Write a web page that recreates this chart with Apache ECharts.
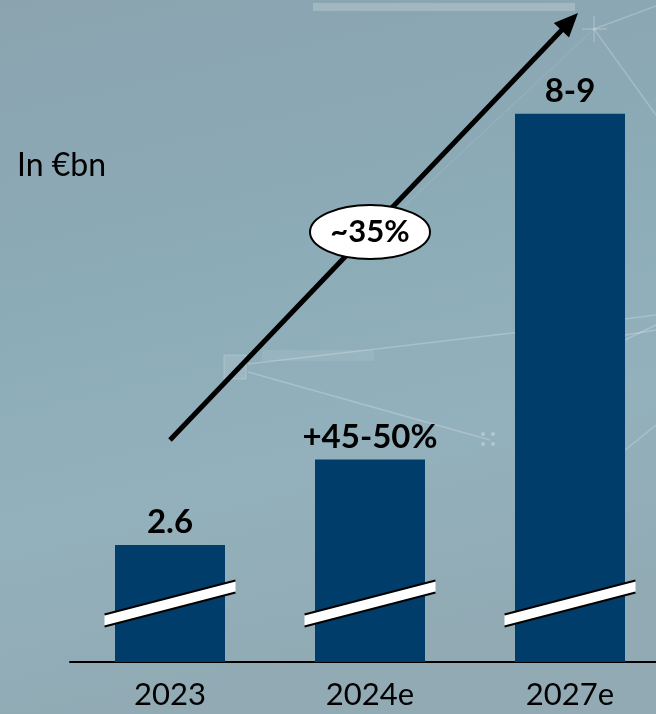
<!DOCTYPE html>
<html>
<head>
<meta charset="utf-8">
<script src="https://cdn.jsdelivr.net/npm/echarts@6/dist/echarts.min.js"></script>
<style>
  html, body { margin: 0; padding: 0; }
  #chart { width: 656px; height: 714px; }
</style>
</head>
<body>
<div id="chart"></div>
<script>
// Revenue in €bn (axis is broken, starting above zero)
const categories = ['2023', '2024e', '2027e'];
const values = [2.6, 3.77, 8.5];
const valueLabels = ['2.6', '+45-50%', '8-9'];
const breakValue = 1.8;          // where the axis-break slash crosses each bar
const cagrLabel = '~35%';
const unitLabel = 'In €bn';

const FONT = 'Lato, "Open Sans", sans-serif';

const chart = echarts.init(document.getElementById('chart'), null, { renderer: 'canvas' });

// Slash drawn across a bar to mark the broken value axis
function renderBreak(params, api) {
  const p = api.coord([api.value(0), api.value(1)]);
  const cx = p[0], cy = p[1];
  const hx = 65.5, hy = 17, t = 6;
  const a = [cx - hx, cy + hy - t], b = [cx + hx, cy - hy - t];
  const c = [cx + hx, cy - hy + t], d = [cx - hx, cy + hy + t];
  return {
    type: 'group',
    children: [
      { type: 'polygon', shape: { points: [a, b, c, d] }, style: { fill: '#ffffff' } },
      { type: 'line', shape: { x1: a[0], y1: a[1], x2: b[0], y2: b[1] }, style: { stroke: '#000', lineWidth: 2 } },
      { type: 'line', shape: { x1: d[0], y1: d[1], x2: c[0], y2: c[1] }, style: { stroke: '#000', lineWidth: 2 } }
    ]
  };
}

// Growth arrow geometry
const arrowStart = [170, 440], arrowTip = [578, 13];
const dx = arrowTip[0] - arrowStart[0], dy = arrowTip[1] - arrowStart[1];
const len = Math.hypot(dx, dy);
const ux = dx / len, uy = dy / len, nx = -uy, ny = ux;
const headL = 24, headW = 10.5;
const baseX = arrowTip[0] - headL * ux, baseY = arrowTip[1] - headL * uy;

const faint = { stroke: 'rgba(255,255,255,0.22)', lineWidth: 1.5 };

chart.setOption({
  backgroundColor: {
    type: 'linear', x: 0, y: 0, x2: 0.25, y2: 1,
    colorStops: [
      { offset: 0, color: '#8aa3af' },
      { offset: 0.45, color: '#8cacb8' },
      { offset: 0.7, color: '#93b1bc' },
      { offset: 1, color: '#91aab4' }
    ]
  },
  animation: false,
  grid: { left: 70, width: 600, top: 4, bottom: 52, outerBoundsMode: 'none', containLabel: false },
  xAxis: {
    type: 'category',
    data: categories,
    axisLine: { lineStyle: { color: '#000', width: 2 } },
    axisTick: { show: false },
    axisLabel: { color: '#000', fontFamily: FONT, fontSize: 31, margin: 17 }
  },
  yAxis: {
    type: 'value', min: 1, max: 10,
    show: false,
    splitLine: { show: false }
  },
  graphic: [
    // faint network texture in the background
    { type: 'rect', z: -1, shape: { x: 313, y: 3, width: 262, height: 8 }, style: { fill: 'rgba(255,255,255,0.2)' } },
    { type: 'line', z: -1, shape: { x1: 594, y1: 16, x2: 594, y2: 42 }, style: faint },
    { type: 'line', z: -1, shape: { x1: 582, y1: 29, x2: 607, y2: 29 }, style: faint },
    { type: 'line', z: -1, shape: { x1: 594, y1: 29, x2: 656, y2: 6 }, style: faint },
    { type: 'line', z: -1, shape: { x1: 594, y1: 29, x2: 656, y2: 115 }, style: faint },
    { type: 'line', z: -1, shape: { x1: 400, y1: 210, x2: 594, y2: 29 }, style: { stroke: 'rgba(255,255,255,0.12)', lineWidth: 1 } },
    { type: 'rect', z: -1, shape: { x: 224, y: 355, width: 22, height: 24 }, style: { fill: 'rgba(255,255,255,0.12)', stroke: 'rgba(255,255,255,0.2)' } },
    { type: 'rect', z: -1, shape: { x: 262, y: 350, width: 112, height: 11 }, style: { fill: 'rgba(255,255,255,0.08)' } },
    { type: 'line', z: -1, shape: { x1: 248, y1: 364, x2: 512, y2: 333 }, style: faint },
    { type: 'line', z: -1, shape: { x1: 248, y1: 372, x2: 490, y2: 440 }, style: faint },
    { type: 'line', z: -1, shape: { x1: 512, y1: 333, x2: 656, y2: 315 }, style: faint },
    { type: 'line', z: -1, shape: { x1: 625, y1: 335, x2: 656, y2: 330 }, style: faint },
    { type: 'line', z: -1, shape: { x1: 625, y1: 340, x2: 656, y2: 325 }, style: faint },
    { type: 'line', z: -1, shape: { x1: 625, y1: 450, x2: 656, y2: 425 }, style: faint },
    { type: 'circle', z: -1, shape: { cx: 483, cy: 434, r: 2 }, style: { fill: 'rgba(255,255,255,0.3)' } },
    { type: 'circle', z: -1, shape: { cx: 493, cy: 434, r: 2 }, style: { fill: 'rgba(255,255,255,0.3)' } },
    { type: 'circle', z: -1, shape: { cx: 483, cy: 444, r: 2 }, style: { fill: 'rgba(255,255,255,0.3)' } },
    { type: 'circle', z: -1, shape: { cx: 493, cy: 444, r: 2 }, style: { fill: 'rgba(255,255,255,0.3)' } },
    // unit label
    { type: 'text', x: 17, y: 166, style: { text: unitLabel, fill: '#000', font: '32px ' + FONT, verticalAlign: 'middle' } },
    // growth arrow
    { type: 'line', z: 10, shape: { x1: arrowStart[0], y1: arrowStart[1], x2: baseX + 4 * ux, y2: baseY + 4 * uy },
      style: { stroke: '#000', lineWidth: 5 } },
    { type: 'polygon', z: 10, shape: { points: [arrowTip, [baseX + headW * nx, baseY + headW * ny], [baseX - headW * nx, baseY - headW * ny]] },
      style: { fill: '#000' } },
    // CAGR bubble
    { type: 'ellipse', z: 11, shape: { cx: 370, cy: 232, rx: 60, ry: 27 }, style: { fill: '#fff', stroke: '#000', lineWidth: 2 } },
    { type: 'text', z: 12, x: 370, y: 232, style: { text: cagrLabel, fill: '#000', font: 'bold 31px ' + FONT, align: 'center', verticalAlign: 'middle' } }
  ],
  series: [
    {
      type: 'bar',
      data: values,
      barWidth: 110,
      itemStyle: { color: '#003d6b' },
      label: {
        show: true, position: 'top', distance: 6,
        color: '#000', fontFamily: FONT, fontWeight: 'bold', fontSize: 33,
        formatter: p => valueLabels[p.dataIndex]
      }
    },
    {
      type: 'custom',
      renderItem: renderBreak,
      data: categories.map((c, i) => [i, breakValue]),
      z: 5
    }
  ]
});
</script>
</body>
</html>
